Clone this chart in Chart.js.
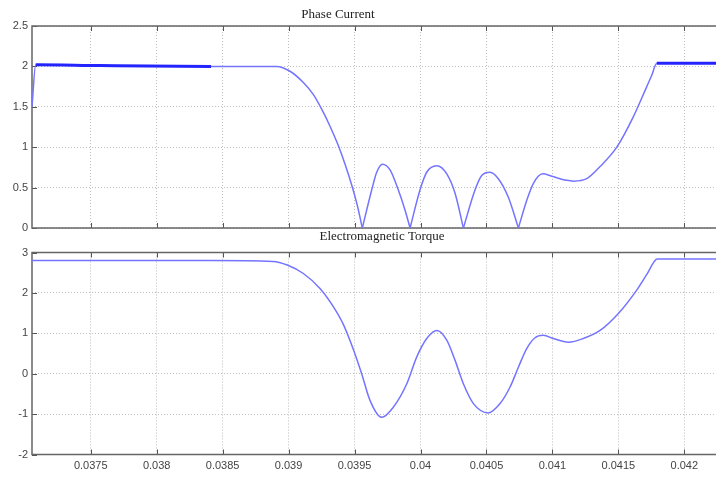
<!DOCTYPE html>
<html>
<head>
<meta charset="utf-8">
<script src="https://cdn.jsdelivr.net/npm/chart.js@4/dist/chart.umd.min.js"></script>
<style>
  html, body { margin: 0; padding: 0; background: #fff; overflow: hidden; }
  canvas { position: absolute; left: 0; }
  #current { top: 0; }
  #torque { top: 229px; }
</style>
</head>
<body>
<canvas id="current" width="716" height="240"></canvas>
<canvas id="torque" width="716" height="252"></canvas>
<script>
// time axis limits (s)
const xMin = 0.037055, xMax = 0.04224;

// Phase Current
const currentTime = [0.037055, 0.037083, 0.037571, 0.038412, 0.03891, 0.039011, 0.039112, 0.039188, 0.039251, 0.039314,
  0.039377, 0.039428, 0.039479, 0.039521, 0.039559, 0.03963, 0.039668, 0.039711, 0.039769, 0.039832,
  0.039883, 0.039921, 0.039996, 0.040047, 0.040123, 0.040199, 0.040262, 0.040325, 0.040413, 0.040464,
  0.040527, 0.04059, 0.040666, 0.040742, 0.040805, 0.040855, 0.040927, 0.040995, 0.041109, 0.041159,
  0.04126, 0.041361, 0.041488, 0.041613, 0.041715, 0.041753, 0.041791, 0.04224];
const currentValues = [1.50, 2.02, 2.01, 2.00, 2.00, 1.94, 1.80, 1.65, 1.47, 1.26,
  1.02, 0.79, 0.53, 0.28, 0, 0.47, 0.69, 0.79, 0.72, 0.47,
  0.22, 0, 0.47, 0.69, 0.77, 0.67, 0.43, 0, 0.47, 0.65,
  0.69, 0.61, 0.38, 0, 0.34, 0.55, 0.67, 0.64, 0.59, 0.58,
  0.61, 0.76, 1.00, 1.375, 1.75, 1.89, 2.04, 2.04];

// Electromagnetic Torque
const torqueTime = [0.037055, 0.038412, 0.038882, 0.03899, 0.039112, 0.039238, 0.039339, 0.039415, 0.039491, 0.039554,
  0.039617, 0.039706, 0.039794, 0.039896, 0.039971, 0.040047, 0.040125, 0.040199, 0.040262, 0.040325,
  0.040401, 0.040514, 0.040603, 0.040679, 0.040742, 0.040805, 0.040868, 0.040931, 0.041007, 0.041121,
  0.041234, 0.041361, 0.0415, 0.041639, 0.041718, 0.041795, 0.04224];
const torqueValues = [2.80, 2.80, 2.78, 2.69, 2.48, 2.11, 1.66, 1.22, 0.60, 0,
  -0.66, -1.08, -0.83, -0.25, 0.41, 0.87, 1.07, 0.83, 0.33, -0.25,
  -0.74, -0.97, -0.74, -0.33, 0.16, 0.62, 0.89, 0.95, 0.87, 0.78,
  0.87, 1.07, 1.49, 2.07, 2.47, 2.84, 2.84];

const tickFont = { family: '"Liberation Sans Narrow", "Liberation Sans", sans-serif', size: 11 };
const gridColor = '#bdbdbd';
const lineColor = '#7474ff';

// matlab-like box, inward ticks and a title at a fixed spot
function frame(title, tx, ty) {
  return {
    id: 'frame',
    beforeDatasetsDraw(chart) {
      const { ctx, chartArea: a, scales } = chart;
      ctx.save();
      ctx.strokeStyle = '#555';
      ctx.lineWidth = 1;
      ctx.beginPath();
      scales.x.ticks.forEach(t => {
        const px = Math.round(scales.x.getPixelForValue(t.value)) + 0.5;
        ctx.moveTo(px, a.top); ctx.lineTo(px, a.top + 5);
        ctx.moveTo(px, a.bottom); ctx.lineTo(px, a.bottom - 5);
      });
      scales.y.ticks.forEach(t => {
        const py = Math.round(scales.y.getPixelForValue(t.value)) + 0.5;
        ctx.moveTo(a.left, py); ctx.lineTo(a.left + 5, py);
      });
      ctx.stroke();
      ctx.strokeStyle = '#666';
      ctx.lineWidth = 1.5;
      ctx.beginPath();
      ctx.moveTo(a.right + 2, a.top);
      ctx.lineTo(a.left, a.top);
      ctx.lineTo(a.left, a.bottom);
      ctx.lineTo(a.right + 2, a.bottom);
      ctx.stroke();
      ctx.restore();
    },
    afterDraw(chart) {
      const ctx = chart.ctx;
      ctx.save();
      ctx.font = '13px "Liberation Serif", "DejaVu Serif", serif';
      ctx.fillStyle = '#222';
      ctx.textAlign = 'center';
      ctx.textBaseline = 'middle';
      ctx.fillText(title, tx, ty);
      ctx.restore();
    }
  };
}

function axes(yMin, yMax, yStep, showX, xHeight) {
  return {
    x: {
      type: 'linear', min: xMin, max: xMax,
      ticks: {
        stepSize: 0.0005, includeBounds: false, display: showX, padding: 5,
        maxRotation: 0, autoSkip: false, font: tickFont, color: '#444',
        callback: v => parseFloat(v.toFixed(5)).toString()
      },
      grid: { color: gridColor, drawTicks: false },
      border: { display: false, dash: [1, 2] },
      afterFit: s => { s.height = xHeight; }
    },
    y: {
      min: yMin, max: yMax,
      ticks: {
        stepSize: yStep, padding: 4, font: tickFont, color: '#444',
        callback: v => parseFloat(v.toFixed(2)).toString()
      },
      grid: { color: gridColor, drawTicks: false },
      border: { display: false, dash: [1, 2] },
      afterFit: s => { s.width = 32; }
    }
  };
}

// the rectified current has sharp zeros: one dataset per arch so the V stays pointed
function arches(times, values) {
  const out = [];
  let cur = [];
  times.forEach((t, i) => {
    cur.push({ x: t, y: values[i] });
    if (values[i] === 0 && i > 0 && i < times.length - 1) {
      out.push(cur);
      cur = [{ x: t, y: 0 }];
    }
  });
  out.push(cur);
  return out;
}

const thick = c => c.p0.parsed.y >= 2.005 && c.p1.parsed.y >= 1.995;

new Chart(document.getElementById('current'), {
  type: 'line',
  data: {
    datasets: arches(currentTime, currentValues).map(pts => ({
      label: 'Phase Current',
      data: pts,
      borderColor: lineColor,
      borderWidth: 1.5,
      pointRadius: 0,
      cubicInterpolationMode: 'monotone',
      segment: {
        borderColor: c => thick(c) ? '#2424ff' : undefined,
        borderWidth: c => thick(c) ? 3 : undefined
      }
    }))
  },
  options: {
    responsive: false,
    animation: false,
    layout: { padding: { top: 26, left: 0, right: 0, bottom: 0 } },
    plugins: { legend: { display: false }, tooltip: { enabled: false } },
    scales: axes(0, 2.5, 0.5, false, 12)
  },
  plugins: [frame('Phase Current', 338, 15)]
});

new Chart(document.getElementById('torque'), {
  type: 'line',
  data: {
    datasets: [{
      label: 'Electromagnetic Torque',
      data: torqueTime.map((t, i) => ({ x: t, y: torqueValues[i] })),
      borderColor: lineColor,
      borderWidth: 1.5,
      pointRadius: 0,
      cubicInterpolationMode: 'monotone'
    }]
  },
  options: {
    responsive: false,
    animation: false,
    layout: { padding: { top: 23.5, left: 0, right: 0, bottom: 0 } },
    plugins: { legend: { display: false }, tooltip: { enabled: false } },
    scales: axes(-2, 3, 1, true, 26.5)
  },
  plugins: [frame('Electromagnetic Torque', 382, 8)]
});
</script>
</body>
</html>
